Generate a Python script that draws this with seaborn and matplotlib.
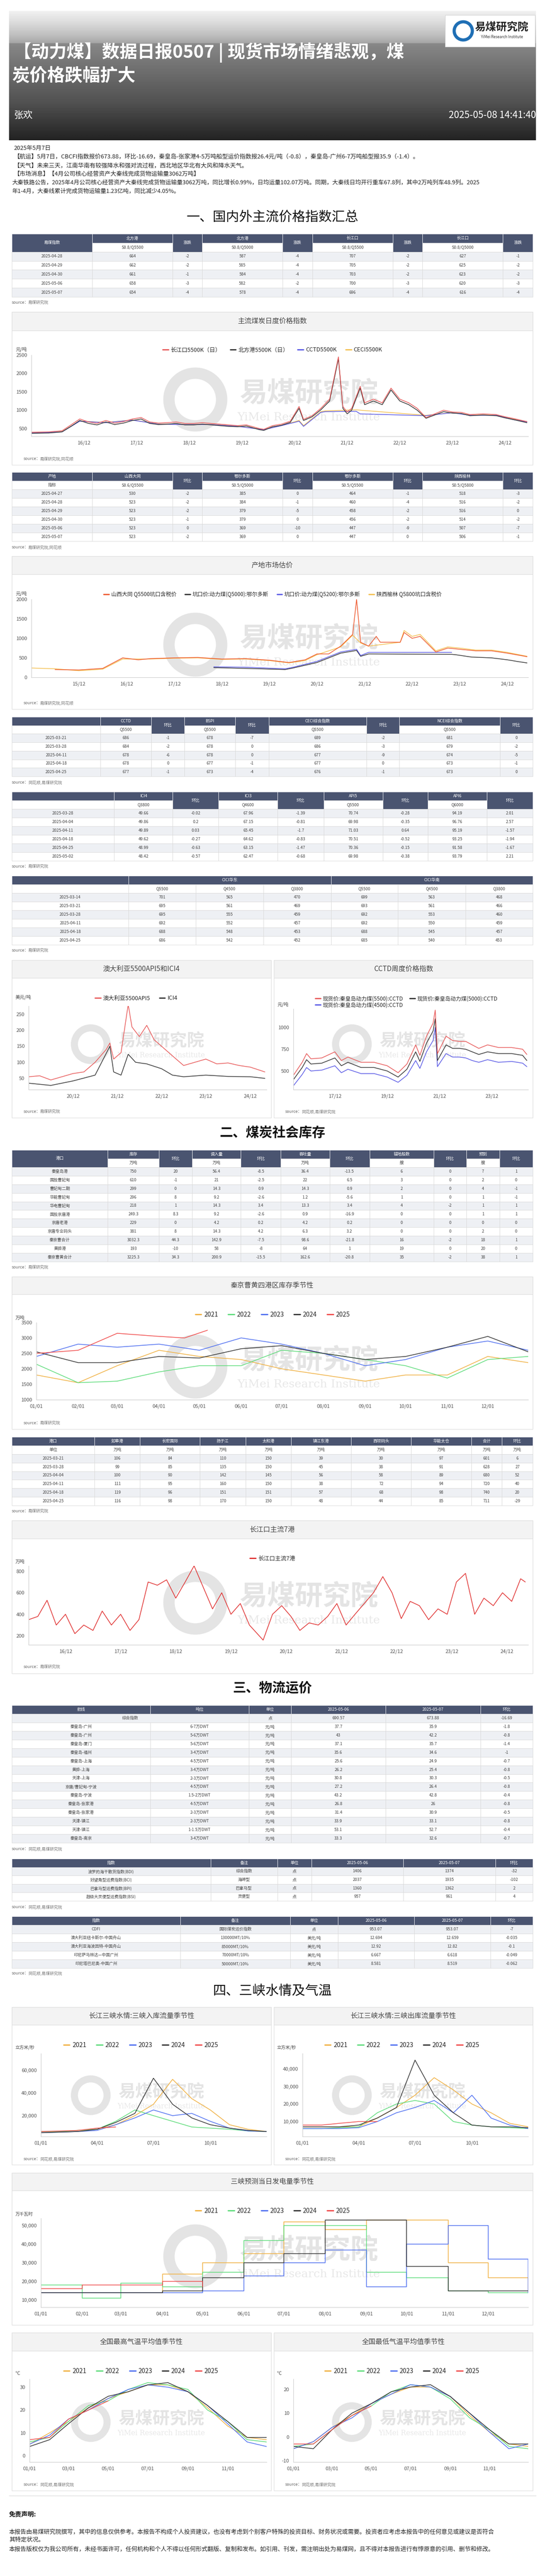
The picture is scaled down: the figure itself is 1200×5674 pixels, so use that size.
import numpy as np
import pandas as pd
import matplotlib
matplotlib.use("Agg")
import matplotlib.pyplot as plt
from matplotlib.patches import Rectangle, Circle
from matplotlib.lines import Line2D
import seaborn as sns

FONT = "Noto Sans CJK SC"
sns.set_theme(style="white", font=FONT)
plt.rcParams["axes.unicode_minus"] = False

W, H = 1200, 5674
ZX = 1200 / 1568  # horizontal scale of layout measurements

RED, DARK, BLUE, GOLD = "#e85a5a", "#333333", "#5a5ae6", "#f4c050"
YEAR_COLORS = {"2021": "#f0b040", "2022": "#5ddc7a", "2023": "#4d6ef0", "2024": "#333333", "2025": "#f04a4a"}
HDR = "#4a5470"

# ---------------- data ----------------
# 主流煤炭日度价格指数
c1_dates = ['2015-12','2016-04','2016-07','2016-09','2016-11','2017-01','2017-03','2017-05','2017-07','2017-09',
            '2017-11','2018-01','2018-03','2018-05','2018-07','2018-09','2018-11','2019-01','2019-03','2019-05',
            '2019-07','2019-09','2019-11','2020-01','2020-04','2020-05','2020-07','2020-09','2020-11','2021-01',
            '2021-02','2021-04','2021-06','2021-08','2021-10','2021-11','2021-12','2022-01','2022-03','2022-04',
            '2022-06','2022-08','2022-10','2022-12','2023-02','2023-04','2023-06','2023-08','2023-10','2023-12',
            '2024-02','2024-04','2024-07','2024-10','2024-12','2025-02','2025-05']
c1_cjk = [400,410,440,600,760,680,640,720,650,690,760,800,680,650,660,680,640,640,660,640,620,600,580,600,500,
          480,580,620,700,1100,750,850,1050,1300,2450,1100,950,1050,1650,1200,1300,1200,1600,1300,1200,1050,800,
          900,1000,950,940,880,900,880,820,770,690]
c1_bfg = [370,380,410,560,720,640,600,680,610,650,720,760,640,610,620,640,600,600,620,600,580,560,550,570,470,
          450,550,590,670,1050,720,820,1010,1250,2400,1050,900,1000,1600,1150,1250,1150,1550,1250,1150,1000,780,
          870,960,920,910,850,870,850,790,740,660]
c1_idx_dates = ['2015-12','2016-07','2016-11','2017-05','2017-11','2018-05','2018-11','2019-05','2019-11','2020-05',
                '2020-09','2020-11','2021-01','2021-02','2021-06','2021-07','2022-02','2022-03','2023-06','2023-08',
                '2023-12','2024-04','2024-10','2024-12','2025-02','2025-05']
c1_cctd = [380,410,700,660,730,620,610,610,560,470,580,640,700,560,940,960,970,900,850,880,930,860,860,800,740,680]
c1_ceci = [385,415,705,665,735,625,615,615,565,475,585,650,720,580,960,980,1010,1000,860,885,935,865,865,810,750,690]

# 产地市场估价
c2_dt_dates = ['2015-06','2015-12','2016-06','2016-11','2017-03','2017-06','2017-12','2018-06','2018-12','2019-06',
               '2019-12','2020-05','2020-09','2020-12','2021-03','2021-06','2021-09','2021-10','2021-11','2022-01',
               '2022-03','2022-04','2022-09','2022-10','2022-12','2023-02','2023-06','2023-09','2023-12','2024-04',
               '2024-08','2024-12','2025-05']
c2_datong = [200,190,230,500,450,480,500,510,470,480,440,380,450,600,600,800,1100,2000,900,800,1050,900,900,1150,
             1000,1050,650,750,720,680,680,620,530]
c2_yl_dates = ['2014-12','2015-06','2015-12','2016-06','2016-11','2017-06','2017-12','2018-06','2018-12','2019-06',
               '2019-12','2020-05','2020-09','2020-12','2021-06','2021-09','2021-11','2022-01','2022-09','2022-10',
               '2022-12','2023-02','2023-06','2023-09','2023-12','2024-04','2024-08','2024-12','2025-05']
c2_yulin = [240,220,170,210,470,470,490,500,460,470,430,370,430,580,780,1080,880,800,900,1200,1050,1100,680,780,750,
            700,700,640,540]
c2_ed_dates = ['2018-10','2019-06','2020-04','2020-06','2020-12','2021-06','2021-10','2021-11','2022-01','2023-10',
               '2023-11','2024-03','2024-08','2024-12','2025-03','2025-05']
c2_erds5000 = [250,230,200,240,380,620,690,540,600,590,580,520,500,450,400,370]
c2_erds5200 = [270,260,220,260,410,650,720,560,640,640]

# 澳大利亚5500API5和ICI4
api5_dates = ['2019-12','2020-03','2020-06','2020-09','2020-12','2021-03','2021-06','2021-09','2021-10','2021-11',
              '2022-01','2022-03','2022-04','2022-06','2022-08','2022-10','2022-12','2023-03','2023-06','2023-09',
              '2023-12','2024-03','2024-06','2024-09','2024-12','2025-04']
api5 = [55,58,45,55,65,70,100,140,160,110,130,280,210,180,215,170,150,120,90,100,110,95,98,90,85,70]
ici4_dates = ['2019-12','2020-06','2020-12','2021-06','2021-10','2021-11','2022-01','2022-03','2022-05','2022-08',
              '2022-12','2023-03','2023-06','2023-12','2024-06','2024-12','2025-04']
ici4 = [35,28,42,60,150,70,60,125,100,95,80,60,55,60,56,55,50]

# CCTD周度价格指数
cctd_dates = ['2016-05','2016-09','2016-11','2017-01','2017-06','2017-12','2018-03','2018-06','2018-12','2019-06',
              '2019-12','2020-05','2020-09','2021-01','2021-03','2021-06','2021-09','2021-10','2021-11','2022-03',
              '2022-06','2022-09','2022-12','2023-03','2023-06','2023-10','2024-03','2024-09','2025-02','2025-04']
cctd5500 = [450,600,700,640,650,720,620,660,600,600,560,480,580,800,680,900,1050,1200,700,900,850,840,840,800,760,
            800,770,770,750,690]
cctd5000 = [400,540,630,580,590,650,560,600,540,540,500,430,520,720,610,820,960,1100,620,800,760,760,750,720,690,
            720,700,700,680,620]
cctd4500 = [330,460,540,500,510,560,480,520,470,470,430,370,450,620,530,720,850,1000,550,700,660,660,650,620,600,
            630,600,610,590,550]

# 季节性横轴
months = ['01-01','02-01','03-01','04-01','05-01','06-01','07-01','08-01','09-01','10-01','11-01','12-01','12-31']

inv_season = {
    "2021": [1800,1550,2100,2600,2400,2300,2000,1800,1600,1800,1800,2400,2200],
    "2022": [2150,1550,1600,1900,2100,2100,2600,2500,2300,2100,1700,2300,2400],
    "2023": [2400,2800,2700,2800,2600,3000,2800,2500,2100,2300,2700,2900,2600],
    "2024": [2550,2200,2200,2400,2350,2650,2750,2500,2300,2400,2700,3050,2550],
}
inv_2025_x = ['01-01','02-01','03-01','04-01','04-20','05-07']
inv_2025 = [2500,2600,3150,3050,3000,3250]

# 长江口主流7港
cj7_dates = ['2016-04','2016-06','2016-08','2016-10','2016-12','2017-02','2017-04','2017-06','2017-08','2017-10',
             '2017-12','2018-02','2018-04','2018-06','2018-08','2018-10','2018-12','2019-02','2019-04','2019-06',
             '2019-08','2019-10','2019-12','2020-02','2020-04','2020-07','2020-09','2020-11','2021-01','2021-03',
             '2021-05','2021-07','2021-09','2021-11','2022-01','2022-03','2022-05','2022-07','2022-09','2022-11',
             '2023-01','2023-03','2023-05','2023-07','2023-09','2023-11','2024-01','2024-03','2024-05','2024-07',
             '2024-09','2024-11','2025-01','2025-03','2025-04']
cj7 = [350,380,530,300,400,220,300,250,430,300,400,250,350,700,670,720,550,700,850,650,450,600,400,500,300,160,400,
       480,380,250,320,300,380,500,300,400,500,600,750,600,360,520,480,350,450,400,700,780,400,550,480,600,520,730,700]

sx_in = {
    "2021": [6000,6000,7000,8000,12000,20000,30000,52000,35000,25000,12000,8000,6000],
    "2022": [6000,6000,7000,8000,15000,25000,20000,15000,10000,9000,8000,6500,6000],
    "2023": [5000,5500,6000,7000,12000,18000,25000,20000,22000,15000,9000,6500,6000],
    "2024": [5000,5500,6000,8000,14000,22000,53000,30000,18000,12000,9000,7000,6000],
    "2025": [6000,6500,7000,9000,10000],
}
sx_out = {
    "2021": [7000,7000,7000,7000,12000,18000,25000,35000,28000,20000,15000,9000,7000],
    "2022": [6000,6000,6500,7000,15000,20000,22000,20000,10000,8000,7000,6500,6000],
    "2023": [6000,6000,6000,6500,10000,15000,18000,22000,15000,25000,12000,8000,6000],
    "2024": [7000,7000,7000,8000,12000,18000,45000,25000,15000,8000,7000,7000,6500],
    "2025": [8000,8000,9000,10000,10000],
}
sx_power = {
    "2021": [14000,14000,14000,24000,30000,35000,52000,48000,53000,53000,30000,22000,15000],
    "2022": [18000,11000,19000,17000,25000,42000,50000,50000,25000,22000,15000,14000,14000],
    "2023": [14000,14000,14000,14000,15000,23000,30000,37000,17000,40000,50000,32000,14000],
    "2024": [14000,14000,14000,15000,22000,30000,35000,53000,53000,28000,15000,15000,15000],
    "2025": [16000,18000,18000,20000,17000],
}
tmax = {
    "2021": [5,10,15,21,25,28,31,31,28,21,13,8,7],
    "2022": [6,8,15,22,24,29,32,31,29,20,15,7,6],
    "2023": [5,9,16,20,25,29,31,30,28,22,14,6,4],
    "2024": [4,7,14,21,26,28,31,32,28,22,15,8,8],
    "2025": [7,8,16,20,24],
}
tmin = {
    "2021": [-5,-2,4,9,14,18,21,21,17,9,2,-3,-4],
    "2022": [-4,-3,3,9,13,19,22,21,16,8,3,-4,-5],
    "2023": [-5,-2,4,8,14,18,22,21,17,10,2,-5,-3],
    "2024": [-4,-5,3,10,14,19,21,22,17,10,3,-3,-3],
    "2025": [-3,-3,3,9,13],
}

# ---------------- tables ----------------
t1_h1 = ['易煤指数','北方港','涨跌','北方港','涨跌','长江口','涨跌','长江口','涨跌']
t1_h2 = [None,'S0.8/Q5500',None,'S0.8/Q5000',None,'S0.8/Q5500',None,'S0.8/Q5000',None]
t1_rows = [['2025-04-28','664','-2','587','-4','707','-2','627','-1'],
           ['2025-04-29','662','-2','585','-4','705','-2','625','-2'],
           ['2025-04-30','661','-1','584','-4','703','-2','623','-2'],
           ['2025-05-06','658','-3','582','-2','700','-3','620','-3'],
           ['2025-05-07','654','-4','578','-4','696','-4','616','-4']]
t2_h1 = ['产地','山西大同','环比','鄂尔多斯','环比','鄂尔多斯','环比','陕西榆林','环比']
t2_h2 = ['指标','S0.6/Q5500',None,'S0.5/Q5000',None,'S0.5/Q5500',None,'S0.5/Q5800',None]
t2_rows = [['2025-04-27','530','-2','385','0','464','-1','518','-3'],
           ['2025-04-28','523','-2','384','-1','460','-4','516','-2'],
           ['2025-04-29','523','-2','379','-5','458','-2','516','0'],
           ['2025-04-30','523','-1','379','0','456','-2','514','-2'],
           ['2025-05-06','523','0','369','-10','447','-9','507','-7'],
           ['2025-05-07','523','-2','369','0','447','0','506','-1']]
t3_h1 = ['','CCTD','环比','BSPI','环比','CECI综合指数','环比','NCEI综合指数','环比']
t3_h2 = ['','Q5500',None,'Q5500',None,'Q5500',None,'Q5500',None]
t3_rows = [['2025-03-21','686','-1','678','-7','689','-2','681','0'],
           ['2025-03-28','684','-2','678','0','686','-3','679','-2'],
           ['2025-04-11','678','-6','678','0','677','-9','674','-5'],
           ['2025-04-18','678','0','677','-1','677','0','673','-1'],
           ['2025-04-25','677','-1','673','-4','676','-1','673','0']]
t4_h1 = ['','ICI4','环比','ICI3','环比','API5','环比','API6','环比']
t4_h2 = ['','Q3800',None,'Q4600',None,'Q5500',None,'Q6000',None]
t4_rows = [['2025-03-28','49.66','-0.02','67.96','-1.39','70.74','-0.28','94.19','2.01'],
           ['2025-04-04','49.86','0.2','67.15','-0.81','69.98','-0.35','96.76','2.57'],
           ['2025-04-11','49.89','0.03','65.45','-1.7','71.03','0.64','95.19','-1.57'],
           ['2025-04-18','49.62','-0.27','64.62','-0.83','70.51','-0.52','93.25','-1.94'],
           ['2025-04-25','48.99','-0.63','63.15','-1.47','70.36','-0.15','91.58','-1.67'],
           ['2025-05-02','48.42','-0.57','62.47','-0.68','69.98','-0.38','93.79','2.21']]
t5_h1 = ['','CICI华东',None,None,'CICI华南',None,None]
t5_h2 = ['','Q5500','Q4500','Q3800','Q5500','Q4500','Q3800']
t5_rows = [['2025-03-14','701','565','470','699','563','468'],
           ['2025-03-21','695','561','469','693','561','466'],
           ['2025-03-28','695','555','459','692','553','460'],
           ['2025-04-11','692','552','457','692','550','459'],
           ['2025-04-18','688','548','453','688','545','457'],
           ['2025-04-25','686','542','452','685','540','453']]
t6_h1 = ['港口','库存','环比','调入量','环比','吞吐量','环比','锚地船数','环比','预到','环比']
t6_h2 = [None,'万吨',None,'万吨',None,'万吨',None,'艘',None,'艘',None]
t6_rows = [['秦皇岛港','750','20','56.4','-8.5','36.4','-13.5','6','0','7','1'],
           ['国投曹妃甸','610','-1','21','-2.5','22','6.5','3','0','2','0'],
           ['曹妃甸二期','299','0','14.3','0.9','14.3','0.9','2','0','4','-1'],
           ['华能曹妃甸','296','8','9.2','-2.6','1.2','-5.6','1','0','1','-1'],
           ['华电曹妃甸','218','1','14.3','3.4','13.3','3.4','4','-2','1','1'],
           ['国投京唐港','249.3','8.3','9.2','-2.6','0.9','-16.9','0','0','1','1'],
           ['京唐老港','229','0','4.2','0.2','4.2','0.2','0','0','0','0'],
           ['京唐专业码头','381','8','14.3','4.2','6.3','3.2','0','0','2','0'],
           ['秦京曹合计','3032.3','44.3','142.9','-7.5','98.6','-21.8','16','-2','18','1'],
           ['黄骅港','193','-10','58','-8','64','1','19','0','20','0'],
           ['秦京曹黄合计','3225.3','34.3','200.9','-15.5','162.6','-20.8','35','-2','38','1']]
t7_h1 = ['港口','如皋港','长宏国际','扬子江','太和港','镇江东港','西坝码头','华能太仓','合计','环比']
t7_h2 = ['单位'] + ['万吨'] * 9
t7_rows = [['2025-03-21','106','84','110','150','39','30','97','601','6'],
           ['2025-03-28','99','85','135','150','45','38','91','628','27'],
           ['2025-04-04','100','90','142','145','56','58','89','680','52'],
           ['2025-04-11','111','95','160','150','38','72','94','720','40'],
           ['2025-04-18','119','96','151','151','57','68','98','740','20'],
           ['2025-04-25','116','98','170','150','48','44','85','711','-29']]
t8_h1 = ['航线','吨位','单位','2025-05-06','2025-05-07','环比']
t8_rows = [['综合指数',None,'点','690.57','673.88','-16.69'],
           ['秦皇岛-广州','6-7万DWT','元/吨','37.7','35.9','-1.8'],
           ['秦皇岛-广州','5-6万DWT','元/吨','43','42.2','-0.8'],
           ['秦皇岛-厦门','5-6万DWT','元/吨','37.1','35.7','-1.4'],
           ['秦皇岛-福州','3-4万DWT','元/吨','35.6','34.6','-1'],
           ['秦皇岛-上海','4-5万DWT','元/吨','25.6','24.9','-0.7'],
           ['黄骅-上海','3-4万DWT','元/吨','26.2','25.4','-0.8'],
           ['天津-上海','2-3万DWT','元/吨','30.8','30.3','-0.5'],
           ['京唐/曹妃甸-宁波','4-5万DWT','元/吨','27.2','26.4','-0.8'],
           ['秦皇岛-宁波','1.5-2万DWT','元/吨','43.2','42.8','-0.4'],
           ['秦皇岛-张家港','4-5万DWT','元/吨','26.8','26','-0.8'],
           ['秦皇岛-张家港','2-3万DWT','元/吨','31.4','30.9','-0.5'],
           ['天津-镇江','2-3万DWT','元/吨','33.9','33.1','-0.8'],
           ['天津-镇江','1-1.5万DWT','元/吨','53.1','52.7','-0.4'],
           ['秦皇岛-南京','3-4万DWT','元/吨','33.3','32.6','-0.7']]
t9_h1 = ['指数','备注','单位','2025-05-06','2025-05-07','环比']
t9_rows = [['波罗的海干散货指数(BDI)','综合指数','点','1406','1374','-32'],
           ['好望角型运费指数(BCI)','海岬型','点','2037','1935','-102'],
           ['巴拿马型运费指数(BPI)','巴拿马型','点','1360','1362','2'],
           ['超级大灵便型运费指数(BSI)','灵便型','点','957','961','4']]
t10_h1 = ['指数','备注','单位','2025-05-06','2025-05-07','环比']
t10_rows = [['CDFI','国际煤炭运价指数','点','953.07','953.07','-7'],
            ['澳大利亚纽卡斯尔-中国舟山','130000MT/10%','美元/吨','12.694','12.659','-0.035'],
            ['澳大利亚海波因特-中国舟山','85000MT/10%','美元/吨','12.92','12.82','-0.1'],
            ['印尼萨马林达—中国广州','70000MT/10%','美元/吨','6.667','6.618','-0.049'],
            ['印尼塔巴尼奥-中国广州','50000MT/10%','美元/吨','8.581','8.519','-0.062']]

# ---------------- figure ----------------
fig = plt.figure(figsize=(12, 56.74), dpi=100)
bg = fig.add_axes([0, 0, 1, 1])
bg.set_xlim(0, W)
bg.set_ylim(H, 0)
bg.axis("off")


def txt(x, y, s, size=9, color="#333333", ha="left", va="center", **kw):
    bg.text(x, y, s, fontsize=size, color=color, ha=ha, va=va, fontfamily=FONT, **kw)


def source(y, name, x=26):
    txt(x, y, "source：", size=6.5, color="#666666")
    txt(x + 36, y, name, size=6.5, color="#777777", style="italic")


def draw_table(y0, y1, edges, h1, rows, h2=None):
    xs = [e * ZX for e in edges]
    nh = 1 if h2 is None else 2
    n = nh + len(rows)
    rh = (y1 - y0) / n
    ncol = len(xs) - 1
    c = 0
    while c < ncol:
        e = c + 1
        while e < ncol and h1[e] is None:
            e += 1
        tall = h2 is not None and h2[c] is None
        hh = rh * (2 if tall else 1)
        bg.add_patch(Rectangle((xs[c], y0), xs[e] - xs[c], hh, fc=HDR, ec="white", lw=0.6))
        txt((xs[c] + xs[e]) / 2, y0 + hh / 2, h1[c], size=6.5, color="white", ha="center")
        c = e
    if h2 is not None:
        for c in range(ncol):
            if h2[c] is None:
                continue
            bg.add_patch(Rectangle((xs[c], y0 + rh), xs[c + 1] - xs[c], rh, fc="white", ec="#d8d8d8", lw=0.6))
            txt((xs[c] + xs[c + 1]) / 2, y0 + 1.5 * rh, h2[c], size=6.5, color="#444444", ha="center")
    for r, row in enumerate(rows):
        yy = y0 + (nh + r) * rh
        fc = "#eef0f4" if r % 2 == 0 else "white"
        c = 0
        while c < ncol:
            e = c + 1
            while e < ncol and row[e] is None:
                e += 1
            bg.add_patch(Rectangle((xs[c], yy), xs[e] - xs[c], rh, fc=fc, ec="#d8d8d8", lw=0.6))
            txt((xs[c] + xs[e]) / 2, yy + rh / 2, row[c], size=6.5, color="#444444", ha="center")
            c = e


def panel(x0, x1, y0, y_hdr, y1, title):
    bg.add_patch(Rectangle((x0, y0), x1 - x0, y1 - y0, fc="white", ec="#dddddd", lw=0.8))
    bg.add_patch(Rectangle((x0, y0), x1 - x0, y_hdr - y0, fc="#f3f3f3", ec="#dddddd", lw=0.8))
    txt((x0 + x1) / 2, (y0 + y_hdr) / 2, title, size=11, color="#444444", ha="center")


def watermark(cx, cy, scale=1.0):
    bg.add_patch(Circle((cx - 210 * scale, cy), 58 * scale, fc="none", ec="#e4e4e4", lw=18 * scale))
    txt(cx + 40 * scale, cy - 12 * scale, "易煤研究院", size=44 * scale, color="#e4e4e4", ha="center",
        weight="bold")
    bg.text(cx + 40 * scale, cy + 40 * scale, "YiMei Research Institute", fontsize=18 * scale,
            color="#e8e8e8", ha="center", va="center", family="DejaVu Serif")


def new_ax(x0, x1, y0, y1):
    ax = fig.add_axes([x0 / W, 1 - y1 / H, (x1 - x0) / W, (y1 - y0) / H])
    ax.set_facecolor("none")
    for s in ["top", "right"]:
        ax.spines[s].set_visible(False)
    for s in ["left", "bottom"]:
        ax.spines[s].set_color("#cccccc")
        ax.spines[s].set_linewidth(0.8)
    ax.tick_params(axis="both", labelsize=8, colors="#555555", length=3, color="#cccccc")
    ax.set_xlabel("")
    ax.set_ylabel("")
    return ax


def line(ax, xs, ys, color, season=False, steps=False):
    x = pd.to_datetime(["2000-" + s for s in xs]) if season else pd.to_datetime(xs)
    df = pd.DataFrame({"x": x, "y": ys})
    sns.lineplot(data=df, x="x", y="y", ax=ax, color=color, lw=1.1,
                 drawstyle="steps-post" if steps else "default")
    ax.set_xlabel("")
    ax.set_ylabel("")


def legend(cx, cy, labels, colors, ncol=None, size=9):
    hs = [Line2D([], [], color=c, lw=2) for c in colors]
    fig.legend(handles=hs, labels=labels, loc="center", bbox_to_anchor=(cx / W, 1 - cy / H),
               ncol=ncol or len(labels), frameon=False, prop={"family": FONT, "size": size},
               handlelength=1.0, handletextpad=0.4, columnspacing=1.6)


def date_axis(ax, lo, hi, ticks, fmt):
    ax.set_xlim(pd.Timestamp(lo), pd.Timestamp(hi))
    tk = pd.to_datetime(ticks)
    ax.set_xticks(tk)
    ax.set_xticklabels([t.strftime(fmt) for t in tk])


def season_axis(ax, ticks):
    ax.set_xlim(pd.Timestamp("2000-01-01"), pd.Timestamp("2000-12-31"))
    tk = pd.to_datetime(["2000-" + t for t in ticks])
    ax.set_xticks(tk)
    ax.set_xticklabels([t.strftime("%m/%d") for t in tk])


def comma_ticks(ax, vals):
    ax.set_yticks(vals)
    ax.set_yticklabels([f"{v:,}" for v in vals])


# ---------------- banner ----------------
shade = np.concatenate([np.linspace(0.12, 0.45, 50), np.linspace(0.55, 0.88, 150)])[:, None] * np.ones((1, 10))
bg.imshow(shade, extent=(20, 1180, 309, 24), cmap="Greys", vmin=0, vmax=1, aspect="auto", zorder=0)
bg.set_xlim(0, W)
bg.set_ylim(H, 0)
bg.add_patch(Rectangle((980, 33), 198, 70, fc="white", ec="#cccccc", lw=0.6, zorder=2))
bg.add_patch(Circle((1020, 68), 20, fc="none", ec="#1f6fb5", lw=5, zorder=3))
txt(1105, 60, "易煤研究院", size=17, color="#222222", ha="center", weight="bold", zorder=3)
txt(1105, 82, "YiMei Research Institute", size=6, color="#333333", ha="center", zorder=3)
txt(30, 116, "【动力煤】数据日报0507 | 现货市场情绪悲观，煤", size=28, color="white", weight="bold", zorder=3)
txt(26, 167, "炭价格跌幅扩大", size=28, color="white", weight="bold", zorder=3)
txt(30, 254, "张欢", size=15, color="white", zorder=3)
txt(1180, 254, "2025-05-08 14:41:40", size=15, color="white", ha="right", zorder=3)

body = ["2025年5月7日",
        "【航运】5月7日，CBCFI指数报价673.88，环比-16.69，秦皇岛-张家港4-5万吨船型运价指数报26.4元/吨（-0.8），秦皇岛-广州6-7万吨船型报35.9（-1.4）。",
        "【天气】未来三天，江南华南有较强降水和强对流过程，西北地区华北有大风和降水天气。",
        "【市场消息】【4月公司核心经营资产大秦线完成货物运输量3062万吨】",
        "大秦铁路公告，2025年4月公司核心经营资产大秦线完成货物运输量3062万吨，同比增长0.99%，日均运量102.07万吨。同期，大秦线日均开行重车67.8列，其中2万吨列车48.9列。2025",
        "年1-4月，大秦线累计完成货物运输量1.23亿吨，同比减少4.05%。"]
for i, (yy, s) in enumerate(zip([326, 345, 365, 383, 402, 421], body)):
    txt(26 if i >= 4 else 30, yy, s, size=9.3 if i < 4 else 9.1, color="#222222")

# ---------------- section 一 ----------------
txt(600, 480, "一、国内外主流价格指数汇总", size=21, color="#111111", ha="center")
E9 = [34, 265, 497, 582, 813, 899, 1130, 1215, 1447, 1533]
draw_table(515, 654, E9, t1_h1, t1_rows, t1_h2)
source(666, "易煤研究院")

panel(26, 1173, 687, 728, 1024, "主流煤炭日度价格指数")
watermark(640, 880)
ax = new_ax(69, 1163, 782, 961)
line(ax, c1_idx_dates, c1_ceci, GOLD)
line(ax, c1_idx_dates, c1_cctd, BLUE)
line(ax, c1_dates, c1_bfg, DARK)
line(ax, c1_dates, c1_cjk, RED)
date_axis(ax, "2015-12-01", "2025-05-10", [f"{y}-12-01" for y in range(2016, 2025)], "%y/12")
ax.set_ylim(290, 2500)
ax.set_yticks([500, 1000, 1500, 2000, 2500])
txt(34, 769, "元/吨", size=7.5, color="#444444")
legend(600, 771, ["长江口5500K（日）", "北方港5500K（日）", "CCTD5500K", "CECI5500K"], [RED, DARK, BLUE, GOLD])
source(1010, "易煤研究院,同花顺", x=52)

draw_table(1040, 1192, E9, t2_h1, t2_rows, t2_h2)
source(1205, "易煤研究院,同花顺")

panel(26, 1173, 1225, 1265, 1562, "产地市场估价")
watermark(640, 1420)
ax = new_ax(69, 1163, 1320, 1492)
line(ax, c2_yl_dates, c2_yulin, GOLD)
line(ax, c2_ed_dates, c2_erds5000, DARK)
line(ax, c2_ed_dates[:10], c2_erds5200, BLUE)
line(ax, c2_dt_dates, c2_datong, "#ee5a30")
date_axis(ax, "2014-12-01", "2025-05-10", [f"{y}-12-01" for y in range(2015, 2025)], "%y/12")
ax.set_ylim(0, 2000)
ax.set_yticks([0, 500, 1000, 1500, 2000])
txt(34, 1307, "元/吨", size=7.5, color="#444444")
legend(600, 1309, ["山西大同 Q5500坑口含税价", "坑口价:动力煤(Q5000):鄂尔多斯", "坑口价:动力煤(Q5200):鄂尔多斯",
                   "陕西榆林 Q5800坑口含税价"], ["#ee5a30", DARK, BLUE, GOLD], size=8.5)
source(1548, "易煤研究院,同花顺", x=52)

draw_table(1579, 1710, [34, 289, 435, 531, 677, 773, 1055, 1149, 1438, 1533], t3_h1, t3_rows, t3_h2)
source(1723, "同花顺,易煤研究院")
draw_table(1744, 1896, [34, 328, 497, 629, 799, 931, 1101, 1231, 1401, 1533], t4_h1, t4_rows, t4_h2)
source(1908, "易煤研究院")
draw_table(1929, 2081, [34, 370, 563, 758, 952, 1145, 1339, 1533], t5_h1, t5_rows, t5_h2)
source(2093, "易煤研究院")

panel(26, 597, 2115, 2154, 2462, "澳大利亚5500API5和ICI4")
watermark(330, 2300, 0.62)
ax = new_ax(63, 587, 2216, 2400)
line(ax, ici4_dates, ici4, DARK)
line(ax, api5_dates, api5, RED)
date_axis(ax, "2019-12-01", "2025-04-15", [f"{y}-12-01" for y in range(2020, 2025)], "%y/12")
ax.set_ylim(15, 275)
ax.set_yticks([50, 100, 150, 200, 250])
txt(34, 2196, "美元/吨", size=7.5, color="#444444")
legend(300, 2199, ["澳大利亚5500API5", "ICI4"], [RED, DARK])
source(2448, "易煤研究院", x=52)

panel(603, 1173, 2115, 2154, 2462, "CCTD周度价格指数")
watermark(905, 2300, 0.62)
ax = new_ax(646, 1163, 2222, 2400)
line(ax, cctd_dates, cctd4500, BLUE)
line(ax, cctd_dates, cctd5000, DARK)
line(ax, cctd_dates, cctd5500, RED)
date_axis(ax, "2016-05-01", "2025-04-20", ["2017-12-01", "2019-12-01", "2021-12-01", "2023-12-01"], "%y/12")
ax.set_ylim(286, 1215)
ax.set_yticks([500, 750, 1000])
txt(610, 2212, "元/吨", size=7.5, color="#444444")
hs = [Line2D([], [], color=c, lw=2) for c in [RED, BLUE, DARK]]
fig.legend(handles=hs, labels=["现货价:秦皇岛动力煤(5500):CCTD", "现货价:秦皇岛动力煤(4500):CCTD",
                               "现货价:秦皇岛动力煤(5000):CCTD"],
           loc="center", bbox_to_anchor=(895 / W, 1 - 2207 / H), ncol=2, frameon=False,
           prop={"family": FONT, "size": 8.5}, handlelength=1.0, handletextpad=0.4, columnspacing=1.2,
           labelspacing=0.1)
source(2448, "同花顺,易煤研究院", x=628)

# ---------------- section 二 ----------------
txt(600, 2496, "二、煤炭社会库存", size=21, color="#111111", ha="center", weight="bold")
draw_table(2533, 2779, [34, 310, 457, 553, 693, 808, 948, 1063, 1248, 1342, 1437, 1533], t6_h1, t6_rows, t6_h2)
source(2791, "易煤研究院")

panel(26, 1173, 2812, 2851, 3148, "秦京曹黄四港区库存季节性")
watermark(640, 3010)
ax = new_ax(80, 1163, 2913, 3083)
for yr, vals in inv_season.items():
    line(ax, months, vals, YEAR_COLORS[yr], season=True)
line(ax, inv_2025_x, inv_2025, YEAR_COLORS["2025"], season=True)
season_axis(ax, months[:-1])
ax.set_ylim(1000, 3500)
ax.set_yticks([1000, 1500, 2000, 2500, 3000, 3500])
txt(34, 2903, "万吨", size=7.5, color="#444444")
legend(600, 2896, list(YEAR_COLORS), list(YEAR_COLORS.values()), size=10)
source(3134, "易煤研究院", x=52)

draw_table(3165, 3316, [34, 272, 403, 575, 707, 838, 1010, 1183, 1356, 1444, 1533], t7_h1, t7_rows, t7_h2)
source(3328, "易煤研究院")

panel(26, 1173, 3349, 3389, 3686, "长江口主流7港")
watermark(640, 3530)
ax = new_ax(63, 1163, 3449, 3623)
line(ax, cj7_dates, cj7, "#e03030")
date_axis(ax, "2016-04-01", "2025-04-20", [f"{y}-12-01" for y in range(2016, 2025)], "%y/12")
ax.set_ylim(116, 850)
ax.set_yticks([200, 400, 600, 800])
txt(34, 3440, "万吨", size=7.5, color="#444444")
legend(600, 3433, ["长江口主流7港"], ["#e03030"])
source(3671, "易煤研究院", x=52)

# ---------------- section 三 ----------------
txt(600, 3718, "三、物流运价", size=21, color="#111111", ha="center", weight="bold")
draw_table(3756, 4059, [34, 432, 716, 838, 1109, 1383, 1533], t8_h1, t8_rows)
source(4072, "同花顺,易煤研究院")
draw_table(4094, 4187, [34, 606, 798, 896, 1160, 1425, 1533], t9_h1, t9_rows)
source(4200, "同花顺,易煤研究院")
draw_table(4221, 4335, [34, 519, 835, 972, 1192, 1411, 1533], t10_h1, t10_rows)
source(4346, "同花顺,易煤研究院")

# ---------------- section 四 ----------------
txt(600, 4386, "四、三峡水情及气温", size=21, color="#111111", ha="center")
years = list(YEAR_COLORS)

panel(26, 597, 4421, 4460, 4768, "长江三峡水情:三峡入库流量季节性")
watermark(330, 4615, 0.62)
ax = new_ax(90, 587, 4523, 4706)
for yr in years:
    line(ax, months[:len(sx_in[yr])], sx_in[yr], YEAR_COLORS[yr], season=True)
season_axis(ax, ["01-01", "04-01", "07-01", "10-01"])
ax.set_ylim(1600, 74800)
comma_ticks(ax, [20000, 40000, 60000])
txt(34, 4510, "立方米/秒", size=7, color="#444444")
legend(310, 4505, years, list(YEAR_COLORS.values()), size=10)
source(4755, "同花顺,易煤研究院", x=52)

panel(603, 1173, 4421, 4460, 4768, "长江三峡水情:三峡出库流量季节性")
watermark(905, 4615, 0.62)
ax = new_ax(666, 1163, 4523, 4706)
for yr in years:
    line(ax, months[:len(sx_out[yr])], sx_out[yr], YEAR_COLORS[yr], season=True)
season_axis(ax, ["01-01", "04-01", "07-01", "10-01"])
ax.set_ylim(1470, 48800)
comma_ticks(ax, [10000, 20000, 30000, 40000])
txt(610, 4510, "立方米/秒", size=7, color="#444444")
legend(885, 4505, years, list(YEAR_COLORS.values()), size=10)
source(4755, "同花顺,易煤研究院", x=628)

panel(26, 1173, 4786, 4825, 5121, "三峡预测当日发电量季节性")
watermark(640, 4970)
ax = new_ax(90, 1163, 4886, 5082)
for yr in years:
    line(ax, months[:len(sx_power[yr])], sx_power[yr], YEAR_COLORS[yr], season=True, steps=True)
season_axis(ax, months[:-1])
ax.set_ylim(6100, 54000)
comma_ticks(ax, [10000, 20000, 30000, 40000, 50000])
txt(34, 4877, "万千瓦时", size=7, color="#444444")
legend(600, 4870, years, list(YEAR_COLORS.values()), size=10)

panel(26, 597, 5138, 5178, 5486, "全国最高气温平均值季节性")
watermark(330, 5335, 0.62)
ax = new_ax(65, 587, 5240, 5423)
for yr in years:
    line(ax, months[:len(tmax[yr])], tmax[yr], YEAR_COLORS[yr], season=True)
season_axis(ax, ["01-01", "03-01", "05-01", "07-01", "09-01", "11-01"])
ax.set_ylim(-2.8, 33.6)
ax.set_yticks([0, 10, 20, 30])
txt(34, 5228, "℃", size=7.5, color="#444444")
legend(310, 5223, years, list(YEAR_COLORS.values()), size=10)
source(5472, "同花顺,易煤研究院", x=52)

panel(603, 1173, 5138, 5178, 5486, "全国最低气温平均值季节性")
watermark(905, 5335, 0.62)
ax = new_ax(646, 1163, 5240, 5423)
for yr in years:
    line(ax, months[:len(tmin[yr])], tmin[yr], YEAR_COLORS[yr], season=True)
season_axis(ax, ["01-01", "03-01", "05-01", "07-01", "09-01", "11-01"])
ax.set_ylim(-10.6, 24.4)
ax.set_yticks([-10, 0, 10, 20])
txt(610, 5228, "℃", size=7.5, color="#444444")
legend(885, 5223, years, list(YEAR_COLORS.values()), size=10)
source(5472, "同花顺,易煤研究院", x=628)

# ---------------- disclaimer ----------------
bg.plot([20, 1180], [5497, 5497], color="#dddddd", lw=1)
txt(20, 5538, "免责声明:", size=10, color="#111111", weight="bold")
txt(20, 5577, "本报告由易煤研究院撰写，其中的信息仅供参考。本报告不构成个人投资建议，也没有考虑到个别客户特殊的投资目标、财务状况或需要。投资者应考虑本报告中的任何意见或建议是否符合",
    size=9.3, color="#222222")
txt(20, 5594, "其特定状况。", size=9.3, color="#222222")
txt(20, 5615, "本报告版权仅为我公司所有，未经书面许可，任何机构和个人不得以任何形式翻版、复制和发布。如引用、刊发，需注明出处为易煤网，且不得对本报告进行有悖原意的引用、删节和修改。",
    size=9.3, color="#222222")

fig.savefig("out.png", dpi=100)
